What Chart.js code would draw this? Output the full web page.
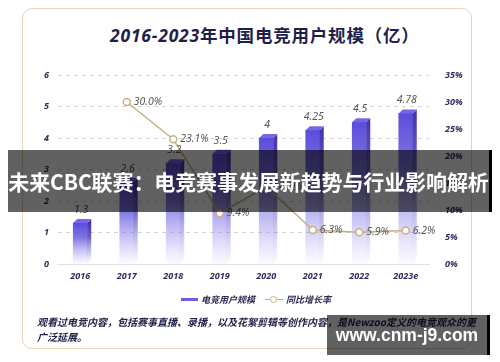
<!DOCTYPE html>
<html>
<head>
<meta charset="utf-8">
<script src="https://cdn.jsdelivr.net/npm/chart.js@4/dist/chart.umd.min.js"></script>
<style>
  html, body { margin: 0; padding: 0; background: #fff; }
  #wrap { position: relative; width: 500px; height: 362px; overflow: hidden; font-family: "Noto Sans CJK SC", "Noto Sans", sans-serif; }
  #card { position: absolute; left: 22px; top: 8px; width: 450px; height: 341px; border: 1.5px solid #e6d6b6; border-radius: 10px; box-sizing: border-box; }
  #title { position: absolute; left: 110px; top: 23px; font-size: 17.5px; font-weight: 700; color: #1f1f48; white-space: nowrap; line-height: 24px; letter-spacing: 0.8px; }
  #title i { font-family: "Noto Sans", sans-serif; }
  canvas { position: absolute; left: 0; top: 0; }
  #legend { position: absolute; left: 181px; top: 292px; font-size: 9px; font-weight: 700; color: #2b2b55; white-space: nowrap; font-style: italic; }
  #legend span { display: inline-block; vertical-align: middle; }
  .sw1 { width: 17px; height: 3px; background: #6b60dd; margin-right: 3px; }
  .sw2 { width: 18px; height: 8px; position: relative; margin: 0 3px 0 10px; }
  .sw2:before { content: ""; position: absolute; left: 0; right: 0; top: 3px; height: 1.5px; background: #c9b084; }
  .sw2:after { content: ""; position: absolute; left: 5px; top: 0; width: 5px; height: 5px; border: 1.5px solid #c9b084; border-radius: 50%; background: #fff; }
  #note { position: absolute; left: 37px; top: 314px; font-size: 10px; font-weight: 700; font-style: italic; color: #23234a; line-height: 15px; white-space: nowrap; }
  #banner { position: absolute; left: 8px; top: 150px; width: 481px; height: 62px; background: rgba(0,0,0,0.62); border-right: 3px solid #000; color: #fff; font-size: 21px; font-weight: 700; line-height: 62px; text-align: center; white-space: nowrap; letter-spacing: -0.1px; }
  #mark { position: absolute; left: 327px; top: 315px; width: 160px; height: 40px; background: rgba(0,0,0,0.62); border-right: 3px solid #000; color: #fff; font-family: "Liberation Sans", sans-serif; font-size: 17.5px; font-weight: 700; line-height: 40px; text-align: center; }
</style>
</head>
<body>
<div id="wrap">
  <div id="card"></div>
  <div id="title"><i>2016-2023</i>年中国电竞用户规模（亿）</div>
  <canvas id="chart" width="500" height="362"></canvas>
  <div id="legend"><span class="sw1"></span><span>电竞用户规模</span><span class="sw2"></span><span>同比增长率</span></div>
  <div id="note">观看过电竞内容，包括赛事直播、录播，以及花絮剪辑等创作内容，是Newzoo定义的电竞观众的更<br>广泛延展。</div>
  <div id="banner">未来CBC联赛：电竞赛事发展新趋势与行业影响解析</div>
  <div id="mark">www.cnm-j9.com</div>
</div>
<script>
const years = ['2016', '2017', '2018', '2019', '2020', '2021', '2022', '2023e'];
const users = [1.3, 2.6, 3.2, 3.5, 4, 4.25, 4.5, 4.78];
const growth = [null, 30.0, 23.1, 9.4, 14.3, 6.3, 5.9, 6.2];

const TICK_FONT = { family: 'Noto Sans', size: 9, style: 'italic', weight: '700' };
const TICK_COLOR = '#2b2b5e';
const LINE_COLOR = '#c9b084';
const DEPTH = 4;

// front face gradient, per bar, from its top down to the axis
function barGradient(ctx) {
    const chart = ctx.chart;
    if (!chart.chartArea || ctx.raw == null) return '#5b4ed8';
    const y = chart.scales.y.getPixelForValue(ctx.raw);
    const base = chart.scales.y.getPixelForValue(0);
    const g = chart.ctx.createLinearGradient(0, y, 0, base);
    g.addColorStop(0, '#5c4dda');
    g.addColorStop(0.35, 'rgba(104,92,224,0.85)');
    g.addColorStop(1, 'rgba(160,150,240,0.04)');
    return g;
}

// draws the side and top faces of each bar
const bar3d = {
    id: 'bar3d',
    afterDatasetDraw(chart, args) {
        if (args.meta.type !== 'bar') return;
        const ctx = chart.ctx;
        args.meta.data.forEach(bar => {
            const { x, y, base, width } = bar.getProps(['x', 'y', 'base', 'width'], true);
            const r = x + width / 2, l = x - width / 2;
            const side = ctx.createLinearGradient(0, y, 0, base);
            side.addColorStop(0, '#4236b0');
            side.addColorStop(0.35, 'rgba(70,58,180,0.8)');
            side.addColorStop(1, 'rgba(140,130,230,0.03)');
            ctx.save();
            ctx.fillStyle = side;
            ctx.beginPath();
            ctx.moveTo(r, y);
            ctx.lineTo(r + DEPTH, y - DEPTH);
            ctx.lineTo(r + DEPTH, base - DEPTH);
            ctx.lineTo(r, base);
            ctx.closePath();
            ctx.fill();
            ctx.fillStyle = '#7568e6';
            ctx.beginPath();
            ctx.moveTo(l, y);
            ctx.lineTo(l + DEPTH, y - DEPTH);
            ctx.lineTo(r + DEPTH, y - DEPTH);
            ctx.lineTo(r, y);
            ctx.closePath();
            ctx.fill();
            ctx.restore();
        });
    }
};

// value labels over bars and next to line points
const valueLabels = {
    id: 'valueLabels',
    afterDatasetsDraw(chart) {
        const ctx = chart.ctx;
        ctx.save();
        ctx.font = 'italic 400 10.5px "Noto Sans"';
        ctx.fillStyle = '#5a5a5a';
        ctx.textBaseline = 'middle';
        chart.getDatasetMeta(0).data.forEach((bar, i) => {
            ctx.textAlign = 'center';
            ctx.fillText(String(users[i]), bar.x + 1, bar.y - 13);
        });
        chart.getDatasetMeta(1).data.forEach((pt, i) => {
            if (growth[i] == null) return;
            ctx.textAlign = 'left';
            ctx.fillText(growth[i].toFixed(1) + '%', pt.x + 7, pt.y);
        });
        ctx.restore();
    }
};

new Chart(document.getElementById('chart'), {
    data: {
        labels: years,
        datasets: [{
            type: 'bar',
            label: '电竞用户规模',
            data: users,
            yAxisID: 'y',
            backgroundColor: barGradient,
            barThickness: 14,
            order: 2
        }, {
            type: 'line',
            label: '同比增长率',
            data: growth,
            yAxisID: 'y2',
            borderColor: LINE_COLOR,
            borderWidth: 1.5,
            pointRadius: 3.5,
            pointBorderWidth: 1.5,
            pointBackgroundColor: '#fff',
            pointBorderColor: LINE_COLOR,
            tension: 0,
            order: 1
        }]
    },
    options: {
        responsive: false,
        animation: false,
        layout: { padding: { top: 75, left: 0, right: 0, bottom: 0 } },
        plugins: { legend: { display: false }, tooltip: { enabled: false } },
        scales: {
            x: {
                grid: { display: true, color: 'transparent', drawTicks: false },
                border: { display: true, color: '#e2e2e2', width: 1 },
                ticks: { color: TICK_COLOR, font: TICK_FONT, padding: 7 },
                afterFit(scale) { scale.width = scale.width; scale.height = 98; }
            },
            y: {
                position: 'left',
                min: 0, max: 6,
                ticks: { stepSize: 1, color: TICK_COLOR, font: TICK_FONT, padding: 8 },
                grid: { color: c => c.tick.value === 0 ? 'transparent' : '#d4d4d4', drawTicks: false },
                border: { display: true, color: 'transparent', dash: [4, 4] },
                afterFit(scale) { scale.width = 57; }
            },
            y2: {
                position: 'right',
                min: 0, max: 35,
                ticks: { stepSize: 5, color: TICK_COLOR, font: TICK_FONT, padding: 8, callback: v => v + '%' },
                grid: { display: false },
                border: { display: false },
                afterFit(scale) { scale.width = 71; }
            }
        }
    },
    plugins: [bar3d, valueLabels]
});
</script>
</body>
</html>
